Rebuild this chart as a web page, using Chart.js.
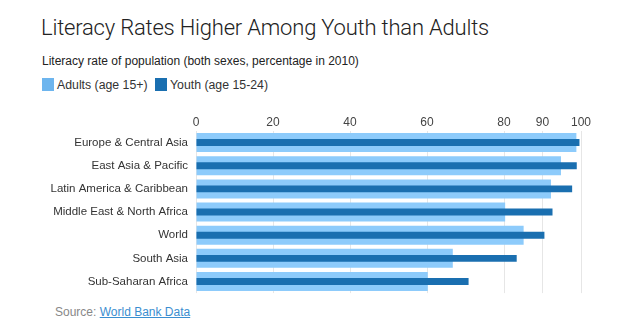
<!DOCTYPE html>
<html>
<head>
<meta charset="utf-8">
<script src="https://cdn.jsdelivr.net/npm/chart.js@4"></script>
<style>
body { margin: 0; width: 640px; height: 335px; background: #fff; font-family: "Liberation Sans", Arial, sans-serif; color: #333; overflow: hidden; position: relative; }
#title { position: absolute; left: 41px; top: 15px; font-family: Roboto, sans-serif; font-weight: 300; font-size: 22px; color: #222; letter-spacing: -0.2px; }
#sub { position: absolute; left: 42px; top: 54px; font-size: 12px; color: #222; }
#legend { position: absolute; left: 42px; top: 78px; font-size: 12.3px; color: #333; }
#legend span.sw { display: inline-block; width: 12px; height: 13px; vertical-align: -2px; margin-right: 3px; }
#legend span.it { margin-right: 4px; }
#wrap { position: absolute; left: 0; top: 110px; width: 640px; height: 190px; }
#src { position: absolute; left: 55px; top: 305px; font-size: 12px; color: #888; }
#src a { color: #3a8ed0; }
</style>
</head>
<body>
<div id="title">Literacy Rates Higher Among Youth than Adults</div>
<div id="sub">Literacy rate of population (both sexes, percentage in 2010)</div>
<div id="legend">
  <span class="sw" style="background:#6db5ee"></span><span class="it">Adults (age 15+)</span>
  <span class="sw" style="background:#1a6fb0"></span><span class="it">Youth (age 15-24)</span>
</div>
<div id="wrap"><canvas id="myChart"></canvas></div>
<div id="src">Source: <a href="#">World Bank Data</a></div>
<script>
const regions = ['Europe & Central Asia', 'East Asia & Pacific', 'Latin America & Caribbean', 'Middle East & North Africa', 'World', 'South Asia', 'Sub-Saharan Africa'];
const adults = [98.8, 94.8, 92.2, 80.3, 85.1, 66.7, 60.2];
const youth = [99.6, 98.9, 97.7, 92.6, 90.5, 83.3, 70.8];
const tickValues = [0, 20, 40, 60, 80, 90, 100];

const ctx = document.getElementById('myChart').getContext('2d');
const myChart = new Chart(ctx, {
    type: 'bar',
    data: {
        labels: regions,
        datasets: [{
            label: 'Youth (age 15-24)',
            data: youth,
            backgroundColor: '#1a6fb0',
            barPercentage: 0.3,
            categoryPercentage: 1,
            grouped: false,
            order: 0
        }, {
            label: 'Adults (age 15+)',
            data: adults,
            backgroundColor: '#8dcbfb',
            barPercentage: 0.82,
            categoryPercentage: 1,
            grouped: false,
            order: 1
        }]
    },
    options: {
        indexAxis: 'y',
        responsive: true,
        maintainAspectRatio: false,
        animation: false,
        layout: { padding: { left: 0, right: 59, top: 0, bottom: 6 } },
        plugins: { legend: { display: false }, tooltip: { enabled: false } },
        scales: {
            x: {
                position: 'top',
                min: 0,
                max: 100,
                afterBuildTicks: (scale) => { scale.ticks = tickValues.map(v => ({ value: v })) },
                afterFit: (scale) => { scale.height = 21 },
                grid: { color: '#e6e6e6', drawTicks: false },
                border: { display: false },
                ticks: { color: '#444', font: { family: 'Liberation Sans', size: 12 }, padding: 1, maxRotation: 0, autoSkip: false }
            },
            y: {
                afterFit: (scale) => { scale.width = 196 },
                grid: { display: false },
                border: { display: false },
                ticks: { color: '#333', font: { family: 'Liberation Sans', size: 11.5 }, padding: 0 }
            }
        }
    }
});
</script>
</body>
</html>
